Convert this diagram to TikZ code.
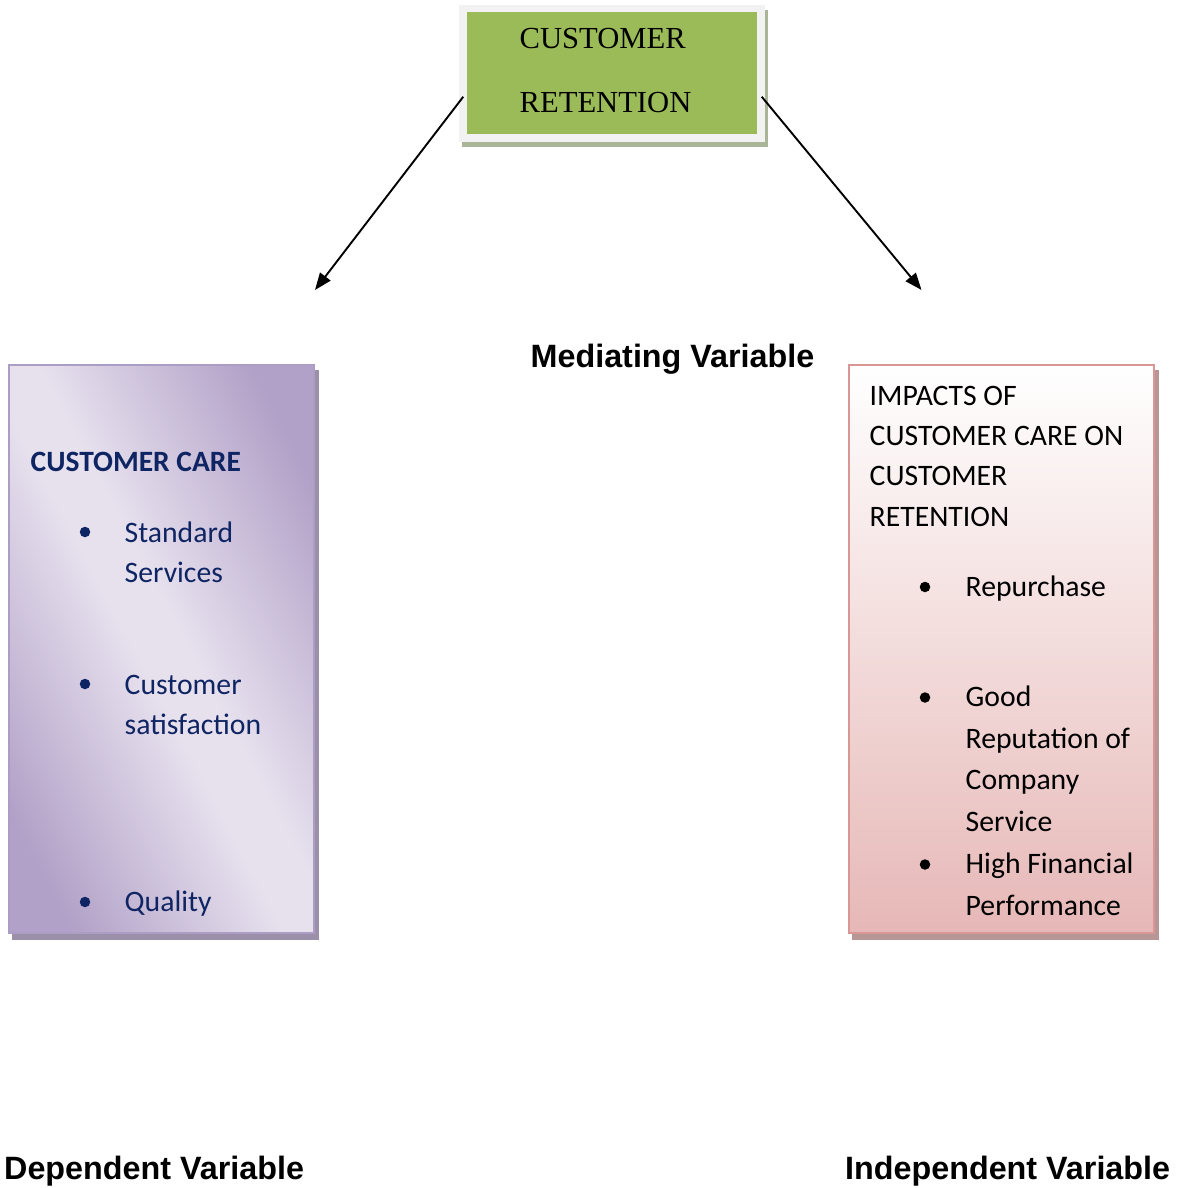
\documentclass[tikz,border=0pt]{standalone}
\usepackage{fontspec}
\newfontfamily\arialfont{Liberation Sans}
\newfontfamily\timesfont{Liberation Serif}
\newfontfamily\calfont{Carlito}
\usetikzlibrary{arrows.meta,calc}
\definecolor{framegray}{RGB}{242,242,242}
\definecolor{olive}{RGB}{155,187,89}
\definecolor{oliveshadow}{RGB}{170,180,150}
\definecolor{pdark}{RGB}{177,160,199}
\definecolor{plight}{RGB}{231,225,238}
\definecolor{pborder}{RGB}{172,157,196}
\definecolor{pshadow}{RGB}{155,143,170}
\definecolor{rbottom}{RGB}{230,184,183}
\definecolor{rborder}{RGB}{217,150,148}
\definecolor{rshadow}{RGB}{185,150,150}
\definecolor{navy}{RGB}{15,36,98}
\pgfdeclareverticalshading{purpband}{100bp}{color(0bp)=(pdark); color(23bp)=(pdark); color(47bp)=(plight); color(53bp)=(plight); color(77bp)=(pdark); color(100bp)=(pdark)}
\pgfdeclarelayer{background}
\pgfsetlayers{background,main}
\tikzset{
  arr/.style={line width=1.9pt, -{Triangle[length=17pt,width=13pt]}},
  calw/.style={anchor=base west, inner sep=0pt, font=\calfont\fontsize{29.7}{35}\selectfont},
  navytext/.style={calw, text=navy},
  blacktext/.style={calw, text=black},
  serifw/.style={anchor=base west, inner sep=0pt, font=\timesfont\fontsize{30.6}{36}\selectfont},
  label/.style={anchor=base west, inner sep=0pt, font=\arialfont\bfseries\fontsize{32.3}{38}\selectfont},
  bul/.style={circle, fill, inner sep=0pt, minimum size=10.5pt},
  bigbox/.style={rectangle, line width=2pt, minimum width=305pt, minimum height=568pt, inner sep=0pt},
}
\begin{document}
\begin{tikzpicture}[x=1pt,y=-1pt]
\useasboundingbox (0,0) rectangle (1177,1188);
% top box
\node[rectangle, fill=olive, draw=framegray, line width=7.5pt, minimum width=298pt, minimum height=129.5pt, inner sep=0pt] (top) at (612,73.25) {};
\node[serifw] (t1) at (519.5,48.3) {CUSTOMER};
\node[serifw] (t2) at (519.5,112.7) {RETENTION};
% left box
\node[bigbox, draw=pborder, shading=purpband, shading angle=-62] (cc) at (161.5,649) {};
% right box
\node[bigbox, draw=rborder, top color=white, bottom color=rbottom] (imp) at (1001.5,649) {};
\begin{pgfonlayer}{background}
  \fill[oliveshadow] ([shift={(3pt,-5.5pt)}]top.south west) rectangle ([shift={(3pt,-5.5pt)}]top.north east);
  \fill[pshadow] ([shift={(3.5pt,-5.5pt)}]cc.south west) rectangle ([shift={(3.5pt,-5.5pt)}]cc.north east);
  \fill[rshadow] ([shift={(3.5pt,-5.5pt)}]imp.south west) rectangle ([shift={(3.5pt,-5.5pt)}]imp.north east);
\end{pgfonlayer}
% left text
\node[navytext, font=\calfont\bfseries\fontsize{29.5}{35}\selectfont] (cch) at (30.5,471) {CUSTOMER CARE};
\node[bul, fill=navy] (lb1) at (85,532) {};
\node[navytext] (l1a) at (124.5,542) {Standard};
\node[navytext] (l1b) at (124.5,582) {Services};
\node[bul, fill=navy] (lb2) at (85,684) {};
\node[navytext] (l2a) at (124.5,694) {Customer};
\node[navytext] (l2b) at (124.5,734.5) {satisfaction};
\node[bul, fill=navy] (lb3) at (85,902) {};
\node[navytext] (l3a) at (124.5,911) {Quality};
% right text
\node[blacktext] (r0a) at (869.5,405.7) {IMPACTS OF};
\node[blacktext] (r0b) at (869.5,445.3) {CUSTOMER CARE ON};
\node[blacktext] (r0c) at (869.5,485.5) {CUSTOMER};
\node[blacktext] (r0d) at (869.5,526.7) {RETENTION};
\node[bul, fill=black] (rb1) at (925,587) {};
\node[blacktext] (r1a) at (965.5,596) {Repurchase};
\node[bul, fill=black] (rb2) at (925,697.5) {};
\node[blacktext] (r2a) at (965.5,706.7) {Good};
\node[blacktext] (r2b) at (965.5,748) {Reputation of};
\node[blacktext] (r2c) at (965.5,789.3) {Company};
\node[blacktext] (r2d) at (965.5,831) {Service};
\node[bul, fill=black] (rb3) at (925,864.5) {};
\node[blacktext] (r3a) at (965.5,873) {High Financial};
\node[blacktext] (r3b) at (965.5,915) {Performance};
% labels
\node[label] (med) at (530.5,367.3) {Mediating Variable};
\node[label] (dep) at (4,1179.3) {Dependent Variable};
\node[label] (ind) at (845,1179.3) {Independent Variable};
% arrows
\coordinate (lt) at (315,290);
\coordinate (rt) at (921.5,290);
\draw[arr] ([shift={(4pt,-23.5pt)}]top.west) -- (lt);
\draw[arr] ([shift={(-3pt,-23.5pt)}]top.east) -- (rt);
\end{tikzpicture}
\end{document}
